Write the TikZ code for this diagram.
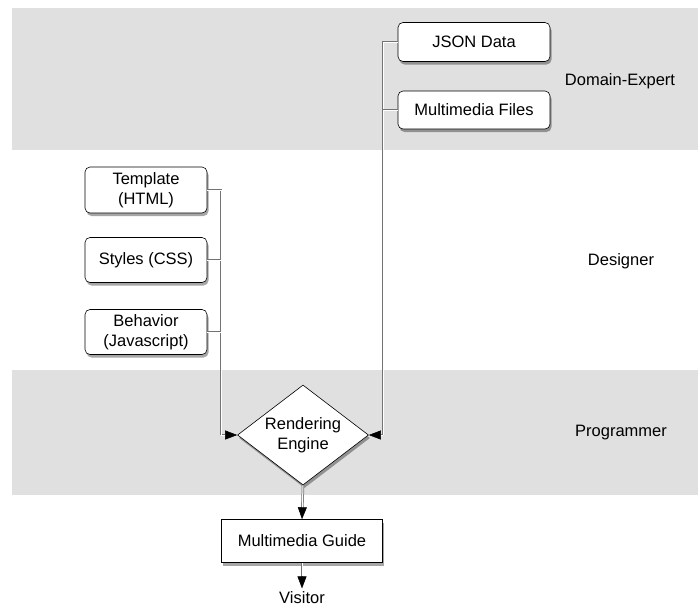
\documentclass[tikz,border=0pt]{standalone}
\usepackage{fontspec}
\setmainfont{Liberation Sans}
\usetikzlibrary{shapes.geometric,shadows,arrows.meta}
\definecolor{bandgray}{HTML}{E0E0E0}
\begin{document}
\begin{tikzpicture}[x=1pt,y=-1pt,
  font=\fontsize{16.5}{20}\selectfont,
  band/.style={fill=bandgray},
  box/.style={draw=black,line width=0.6pt,fill=white,rounded corners=5pt,
    align=center,inner sep=0pt,minimum width=#1,
    drop shadow={shadow xshift=1.5pt,shadow yshift=-3pt,opacity=0.35,fill=black}},
  guidebox/.style={draw=black,line width=0.6pt,fill=white,align=center,
    minimum width=161pt,minimum height=43pt,inner sep=0pt,
    drop shadow={shadow xshift=1.5pt,shadow yshift=-3pt,opacity=0.35,fill=black}},
  engine/.style={diamond,draw=black,line width=0.6pt,fill=white,aspect=1.3,
    align=center,inner sep=1pt,minimum width=131pt,minimum height=100pt,
    drop shadow={shadow xshift=1.5pt,shadow yshift=-3pt,opacity=0.35,fill=black}},
  link/.style={draw=black!55,line width=0.75pt,double=white,double distance=1pt},
  flow/.style={draw=black!55,line width=2.5pt,
    -{Triangle[length=12pt,width=9pt,line width=0.5pt,fill=black,color=black]},
    postaction={draw=white,line width=1pt,shorten >=12pt,-}}]
\useasboundingbox (0,0) rectangle (698,606);
\fill[band] (12,8) rectangle (698,150);
\fill[band] (12,370) rectangle (698,495);

\node at (620,81) {Domain-Expert};
\node at (621,261) {Designer};
\node at (621,433) {Programmer};

\node[box=152pt,minimum height=39pt] (json) at (474,42) {JSON Data};
\node[box=152pt,minimum height=38pt] (files) at (474,110) {Multimedia Files};
\node[box=122pt,minimum height=46pt] (tmpl) at (146,190) {Template\\(HTML)};
\node[box=122pt,minimum height=45pt] (css) at (146,260) {Styles (CSS)};
\node[box=122pt,minimum height=45pt] (js) at (146,332) {Behavior\\(Javascript)};
\node[engine] (eng) at (303,435) {Rendering\\Engine};
\node[guidebox] (guide) at (302,541) {Multimedia Guide};
\node (visitor) at (302,598) {Visitor};

\coordinate (lbus) at (221,435);
\coordinate (rbus) at (383,435);

\draw[flow] (lbus) -- (eng.west);
\draw[link] (tmpl.east) -| (lbus);
\draw[link] (css.east) -- (css.east -| lbus);
\draw[link] (js.east) -- (js.east -| lbus);

\draw[flow] (rbus) -- (eng.east);
\draw[link] (json.west) -| (rbus);
\draw[link] (files.west) -- (files.west -| rbus);

\draw[flow] (eng.south) -- (guide.north);
\draw[flow] (guide.south) -- (visitor.north);
\end{tikzpicture}
\end{document}
